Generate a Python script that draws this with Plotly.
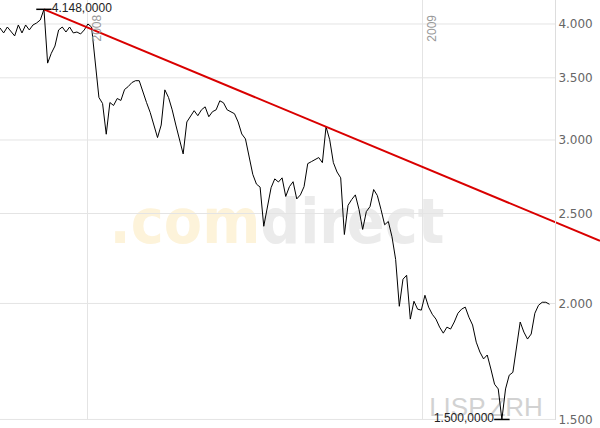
import math
import pandas as pd
import plotly.graph_objects as go

# ---------------- data ----------------
start_date = "2007-09-28"
end_date = "2009-05-26"
step = "4D"
prices = [3960, 3912, 3970, 3921, 3883, 3990, 3912, 3990, 3941, 3990,
          4010, 4040, 4148, 3630, 3719, 3787, 3941, 3970, 3921, 3970,
          3912, 3921, 3902, 3941, 4000, 3970, 3659, 3334, 3284, 3043,
          3292, 3268, 3325, 3309, 3400, 3425, 3459, 3475, 3475, 3373,
          3292, 3212, 3113, 3018, 3113, 3397, 3334, 3233, 3113, 3002,
          2898, 3137, 3178, 3226, 3186, 3233, 3257, 3178, 3218, 3233,
          3306, 3290, 3233, 3218, 3202, 3137, 3045, 3008, 2872, 2755,
          2689, 2669, 2422, 2551, 2665, 2724, 2703, 2731, 2608, 2672,
          2705, 2592, 2618, 2672, 2829, 2843, 2857, 2872, 2836, 3100,
          3002, 2836, 2771, 2731, 2373, 2551, 2588, 2618, 2525, 2403,
          2512, 2543, 2653, 2614, 2525, 2431, 2451, 2360, 2231, 1986,
          2124, 2145, 1924, 2011, 1972, 1967, 2041, 1982, 1947, 1924,
          1886, 1858, 1886, 1877, 1910, 1952, 1972, 1982, 1933, 1896,
          1817, 1773, 1743, 1760, 1700, 1637, 1618, 1500, 1618, 1674,
          1686, 1798, 1910, 1863, 1831, 1854, 1952, 1991, 2006, 2006,
          1996]
dates = pd.date_range(start_date, periods=len(prices), freq=step)

y_tickvals = [1500, 2000, 2500, 3000, 3500, 4000]
y_ticktext = ["1.500", "2.000", "2.500", "3.000", "3.500", "4.000"]
y_min, y_max = 1498, 4245
year_ticks = ["2008-01-01", "2009-01-01"]
year_labels = ["2008", "2009"]
trend_second_index = 89  # second touching peak of the resistance line

# ---------------- geometry ----------------
W, H = 600, 428
plot_w = 555
dom_x = plot_w / W

def de_fmt(v):
    s = f"{v:,.4f}"
    return s.replace(",", "X").replace(".", ",").replace("X", ".")

i_max = prices.index(max(prices))
i_min = prices.index(min(prices))

t0 = pd.Timestamp(start_date)
t1 = pd.Timestamp(end_date)
x_full_end = t0 + (t1 - t0) * (W / plot_w)   # axis runs under the label column too
d1, v1 = dates[i_max], prices[i_max]
d2, v2 = dates[trend_second_index], prices[trend_second_index]
frac = (x_full_end - d1) / (d2 - d1)
v3 = 10 ** (math.log10(v1) + (math.log10(v2) - math.log10(v1)) * frac)

fig = go.Figure()

# horizontal grid lines, limited to the chart panel
gx, gy = [], []
for v in y_tickvals:
    gx += [t0, t1, None]
    gy += [v, v, None]
fig.add_trace(go.Scatter(x=gx, y=gy, mode="lines",
                         line=dict(color="#e4e4e4", width=1),
                         hoverinfo="skip", showlegend=False))

fig.add_trace(go.Scatter(x=dates, y=prices, mode="lines",
                         line=dict(color="black", width=1),
                         hoverinfo="skip", showlegend=False))

fig.add_trace(go.Scatter(x=[d1, x_full_end], y=[v1, v3], mode="lines",
                         line=dict(color="#d90000", width=2),
                         hoverinfo="skip", showlegend=False))

fig.add_trace(go.Scatter(x=[dates[i_max]], y=[prices[i_max]], mode="markers+text",
                         marker=dict(symbol="line-ew", size=11,
                                     line=dict(color="black", width=1.5)),
                         text=[de_fmt(prices[i_max])], textposition="middle right",
                         textfont=dict(family="Liberation Sans, Arial", size=12, color="#222"),
                         cliponaxis=False, hoverinfo="skip", showlegend=False))
fig.add_trace(go.Scatter(x=[dates[i_min]], y=[prices[i_min]], mode="markers+text",
                         marker=dict(symbol="line-ew", size=11,
                                     line=dict(color="black", width=1.5)),
                         text=[de_fmt(prices[i_min])], textposition="middle left",
                         textfont=dict(family="Liberation Sans, Arial", size=12, color="#222"),
                         cliponaxis=False, hoverinfo="skip", showlegend=False))

fig.update_layout(
    width=W, height=H,
    margin=dict(l=0, r=0, t=0, b=H - 420, pad=0),
    paper_bgcolor="white", plot_bgcolor="white",
    xaxis=dict(type="date", range=[t0, x_full_end], domain=[0, 1],
               tickvals=year_ticks, showticklabels=False, showgrid=True,
               gridcolor="#e4e4e4", gridwidth=1, showline=False,
               ticks="", zeroline=False, fixedrange=True),
    yaxis=dict(type="log", side="right", anchor="free", position=dom_x,
               range=[math.log10(y_min), math.log10(y_max)],
               tickvals=y_tickvals, ticktext=y_ticktext, showgrid=False,
               showline=True, linecolor="#dddddd", linewidth=1,
               ticks="", zeroline=False,
               tickfont=dict(family="DejaVu Sans", size=12, color="#666666"),
               fixedrange=True),
    showlegend=False,
)

# watermarks
fig.add_shape(type="rect", xref="paper", yref="paper",
              x0=0.2617, x1=0.6617, y0=0.382, y1=0.582, line=dict(width=0),
              fillcolor="rgba(0,0,0,0)", layer="below",
              label=dict(text="<b><span style='color:#fdf3da'>.com</span>"
                              "<span style='color:#ebebeb'>direct</span></b>",
                         textposition="middle center",
                         font=dict(family="DejaVu Sans Condensed, Arial",
                                   size=62, color="#ebebeb")))
fig.add_shape(type="rect", xref="paper", yref="paper",
              x0=0.71, x1=0.91, y0=0.0, y1=0.0714, line=dict(width=0),
              fillcolor="rgba(0,0,0,0)", layer="below",
              label=dict(text="LISP.ZRH", textposition="middle center",
                         font=dict(family="Liberation Sans, Arial", size=26,
                                   color="#d2d2d2")))

for d, lab in zip(year_ticks, year_labels):
    fig.add_annotation(x=d, y=1 - 13 / 420, xref="x", yref="paper", text=lab,
                       textangle=-90, xanchor="left", yanchor="top",
                       showarrow=False,
                       font=dict(family="Liberation Sans, Arial", size=12, color="#999999"))

fig.add_annotation(x=0, y=-4 / 420, xref="paper", yref="paper",
                   text="ITC 53% UL      Intervall: 1 Tag", xanchor="left", yanchor="top",
                   showarrow=False,
                   font=dict(family="Liberation Sans, Arial", size=11, color="#888888"))

fig.write_html("out.html", config={"displayModeBar": False},
               post_script="document.body.style.margin='0px';")
